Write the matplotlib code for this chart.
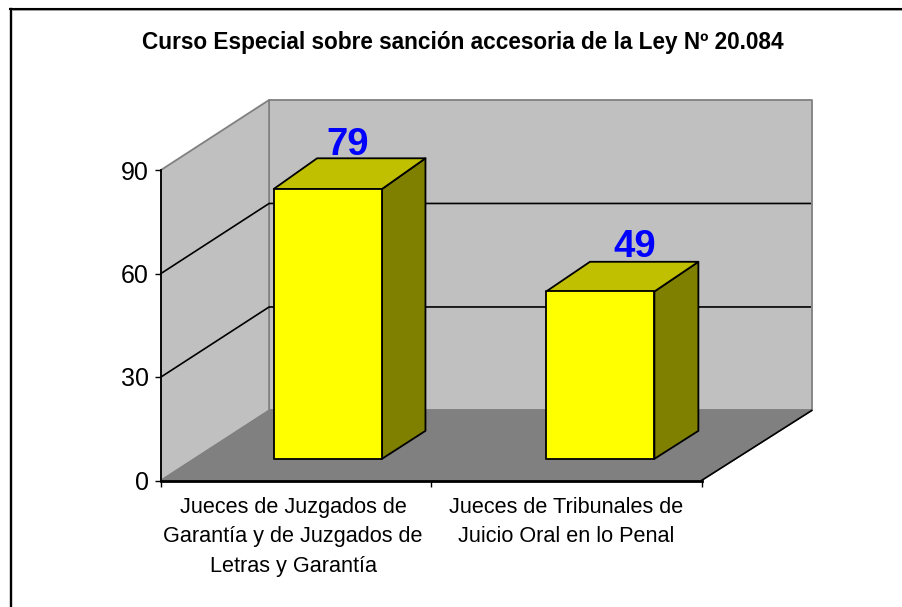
import matplotlib
matplotlib.use("Agg")
import matplotlib.pyplot as plt
from matplotlib.patches import Polygon
from matplotlib.lines import Line2D

categories = ["Jueces de Juzgados de\nGarantía y de Juzgados de\nLetras y Garantía",
              "Jueces de Tribunales de\nJuicio Oral en lo Penal"]
values = [79, 49]
y_ticks = [0, 30, 60, 90]
title = "Curso Especial sobre sanción accesoria de la Ley Nº 20.084"

W, H = 902, 607
plt.rcParams['font.family'] = ['Liberation Sans', 'DejaVu Sans']
fig = plt.figure(figsize=(W / 100, H / 100), dpi=100, facecolor='white')
# front plane of the 3-D box
L, R, T, B = 161, 701.5, 170, 480.5
ax = fig.add_axes([L / W, 1 - B / H, (R - L) / W, (B - T) / H])
ax.set_xlim(0, len(categories))
ax.set_ylim(0, 90)
ax.patch.set_visible(False)

DEPTH_X = 0.40    # categories per full depth
DEPTH_Y = 20.3    # value units per full depth
PERSP = 0.004     # slight widening towards the back wall
BAR_D0, BAR_D1 = 0.309, 0.709
BAR_W = 0.40
BAR_SCALE = 0.99
BAR_BACK_SCALE = 1.0  # back edge of the bar top is drawn slightly taller


def P(x, v, d=0.0):
    return (x * (1 + PERSP * d) + DEPTH_X * d, v + DEPTH_Y * d)


def poly(pts, fc, ec, lw, z):
    ax.add_patch(Polygon(pts, closed=True, fc=fc, ec=ec, lw=lw, zorder=z,
                         clip_on=False, joinstyle='round'))


n = len(categories)
ymax = y_ticks[-1]
GRAY = '#808080'
# back wall, left wall, floor
poly([P(0, 0, 1), P(n, 0, 1), P(n, ymax, 1), P(0, ymax, 1)], '#C0C0C0', GRAY, 1.3, 1)
poly([P(0, 0), P(0, 0, 1), P(0, ymax, 1), P(0, ymax)], '#C0C0C0', GRAY, 1.3, 1)
poly([P(0, 0), P(n, 0), P(n, 0, 1), P(0, 0, 1)], '#808080', GRAY, 1.0, 2)
# right floor edge in black
ax.add_line(Line2D(*zip(P(n, 0), P(n, 0, 1)), color='black', lw=1.2, zorder=3, clip_on=False))

# gridlines on walls
for v in y_ticks[1:-1]:
    pts = [P(0, v), P(0, v, 1), P(n - 0.006, v, 1)]
    ax.add_line(Line2D(*zip(*pts), color='black', lw=1.2, zorder=3, clip_on=False))

# bars
bar_nudge = [-0.007, 0.0]
label_shift = [(-2, 3.5), (12, 5)]
for i, val in enumerate(values):
    c = i + 0.5 + bar_nudge[i]
    x0 = c - BAR_W / 2
    x1 = c + BAR_W / 2
    h = val * BAR_SCALE
    hb = val * BAR_BACK_SCALE
    poly([P(x1, 0, BAR_D0), P(x1, 0, BAR_D1), P(x1, hb, BAR_D1), P(x1, h, BAR_D0)],
         '#808000', 'black', 1.3, 5)
    poly([P(x0, h, BAR_D0), P(x1, h, BAR_D0), P(x1, hb, BAR_D1), P(x0, hb, BAR_D1)],
         '#C0C000', 'black', 1.3, 5)
    poly([P(x0, 0, BAR_D0), P(x1, 0, BAR_D0), P(x1, h, BAR_D0), P(x0, h, BAR_D0)],
         '#FFFF00', 'black', 1.3, 6)
    anchor = (P(c, h, (BAR_D0 + BAR_D1) / 2)[0], P(c, hb, BAR_D1)[1])
    ax.annotate(str(val), xy=anchor,
                xytext=(label_shift[i][0] * 0.72, label_shift[i][1] * 0.72),
                textcoords='offset points', ha='center', va='baseline',
                fontsize=27.5, fontweight='bold', color='#0000FF', zorder=7,
                annotation_clip=False)

# axes
for s in ('top', 'right'):
    ax.spines[s].set_visible(False)
ax.spines['left'].set_color('black')
ax.spines['left'].set_linewidth(1.3)
ax.spines['left'].set_zorder(4)
ax.spines['bottom'].set_color('black')
ax.spines['bottom'].set_linewidth(2.0)
ax.spines['bottom'].set_zorder(4)
ax.set_yticks(y_ticks)
ax.set_yticklabels([str(t) for t in y_ticks], fontsize=18)
ax.tick_params(axis='y', length=4.5, width=1, pad=4.5, color='black')
ax.set_xticks(range(n + 1))
ax.set_xticklabels([''] * (n + 1))
ax.tick_params(axis='x', which='major', length=4.5, width=1, color='black')
label_nudge = [-0.011, 0.0]
ax.set_xticks([i + 0.5 + label_nudge[i] for i in range(n)], minor=True)
ax.set_xticklabels(categories, minor=True, fontsize=15.6, linespacing=1.53)
ax.tick_params(axis='x', which='minor', length=0, pad=11.7)

# outer frame (top and left only)
fig.add_artist(Line2D([10.5 / W, 10.5 / W], [0, 1 - 8.5 / H], color='black', lw=1.7,
                      transform=fig.transFigure))
fig.add_artist(Line2D([9.5 / W, 1], [1 - 9 / H, 1 - 9 / H], color='black', lw=1.5,
                      transform=fig.transFigure))
fig.add_artist(Line2D([11.5 / W, 1], [1 - 10.4 / H, 1 - 10.4 / H], color='#999999', lw=0.7,
                      transform=fig.transFigure))

fig.text(463 / W, 1 - 49 / H, title, ha='center', va='baseline',
         fontsize=16.3, fontweight='bold', color='black')

fig.savefig('out.png', dpi=100)
